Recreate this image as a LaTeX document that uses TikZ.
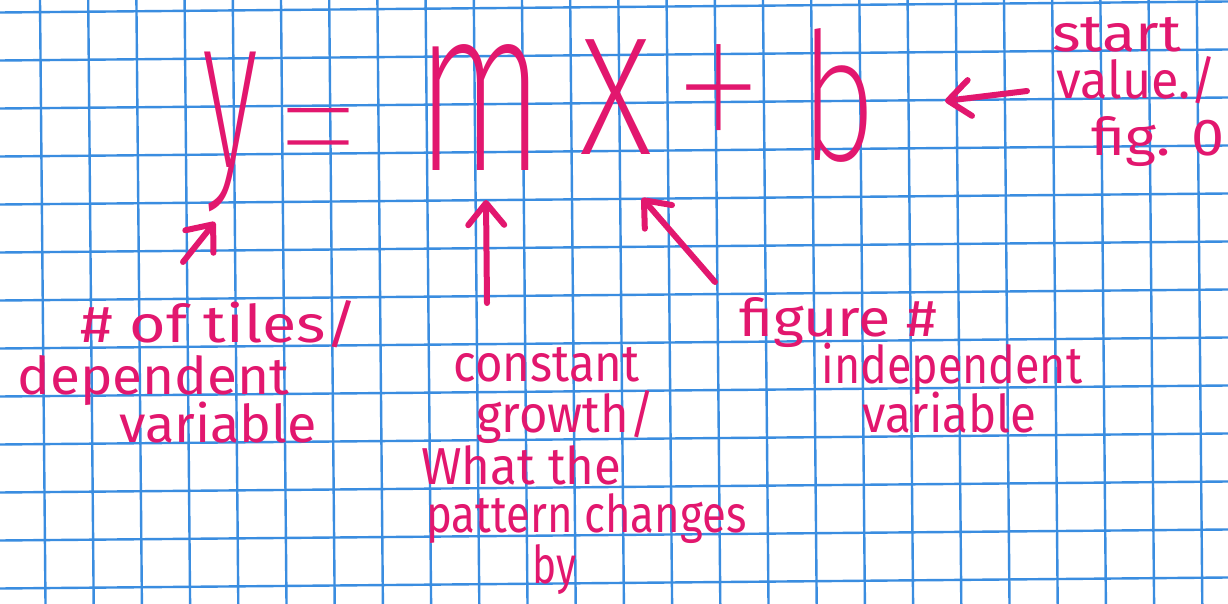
\documentclass[tikz,border=0pt]{standalone}
\usepackage{fontspec}
\usepackage{graphicx}
\usetikzlibrary{arrows.meta}
\newfontfamily\penfont{Fira Sans}
\newfontfamily\bigpen{Fira Sans ExtraLight}
\newfontfamily\signpen{Fira Sans Thin}
\definecolor{penpink}{HTML}{E2176E}
\definecolor{gridblue}{HTML}{3A8DE0}
% squeeze a line of handwriting to a given width, keeping its height
\newcommand{\inkline}[2]{\resizebox{#1}{\height}{#2}}
% fit one big glyph into a box
\newcommand{\inkglyph}[3]{\resizebox*{#1}{#2}{#3}}

\begin{document}
\begin{tikzpicture}[x=0.5pt, y=-0.5pt,
  gridline/.style={gridblue, line width=1.2pt},
  note/.style={penpink, font=\penfont\fontsize{26}{26}\selectfont, inner sep=0pt, anchor=base west},
  glyph/.style={penpink, font=\bigpen\fontsize{110}{110}\selectfont, inner sep=0pt},
  sign/.style={penpink, inner sep=0pt, anchor=north},
  pointer/.style={penpink, line width=3pt, line cap=round, -{Straight Barb[length=11pt,width=18pt,round]}}]
  \fill[white] (0,0) rectangle (1228,604);
  \useasboundingbox (0,0) rectangle (1228,604);
  % Graph paper
  \foreach \k in {0,...,24}
    \draw[gridline] ({40+48.2*\k},0) -- ({45.5+48.2*\k},604);
  \foreach \j in {0,...,12}
    \draw[gridline] (0,{12.5+48*\j}) -- (1228,{1.5+48*\j});
  % Equation
  \node[glyph] (eqy) at (230,132) {\inkglyph{28pt}{80pt}{y}};
  \node[sign, font=\signpen\fontsize{64}{64}\selectfont] (eqeq) at (319,108) {\scalebox{1.45}[1.6]{=}};
  \node[glyph] (eqm) at (480,108) {\inkglyph{64pt}{63pt}{m}};
  \node[glyph, anchor=base] (eqx) at (616,155) {\scalebox{0.74}[1]{x}};
  \node[sign, font=\signpen\fontsize{130}{130}\selectfont] (eqplus) at (719,44) {\scalebox{0.75}[1]{+}};
  \node[glyph] (eqb) at (838,95) {\inkglyph{38pt}{67pt}{b}};
  % Labels
  \node[note] (tiles) at (80,343) {\inkline{139pt}{\# of tiles/}};
  \node[note] (dependent) at (17,395) {\inkline{136pt}{dependent}};
  \node[note] (depvar) at (119,443) {\inkline{98.5pt}{variable}};
  \node[note] (constant) at (453,382) {\inkline{93pt}{constant}};
  \node[note] (growth) at (476,433) {\inkline{89pt}{growth/}};
  \node[note] (whatthe) at (421,485) {\inkline{100pt}{What the}};
  \node[note] (pattern) at (426,533) {\inkline{160pt}{pattern changes}};
  \node[note] (by) at (532,583) {\inkline{22pt}{by}};
  \node[note] (figure) at (739,337) {\inkline{99pt}{figure \#}};
  \node[note] (independent) at (821,384) {\inkline{130.5pt}{independent}};
  \node[note] (indepvar) at (862,433) {\inkline{87pt}{variable}};
  \node[note] (start) at (1052,52) {\inkline{64.5pt}{start}};
  \node[note] (value) at (1056,99) {\inkline{80pt}{value./}};
  \node[note] (figzero) at (1091,156) {\inkline{66.5pt}{fig. 0}};
  % Arrows
  \coordinate (tilesTail) at (183,262);
  \coordinate (yHead) at (215,222);
  \coordinate (growthTail) at (487,303);
  \coordinate (mHead) at (486,200);
  \coordinate (figureTail) at (715,282);
  \coordinate (xHead) at (642,198);
  \coordinate (startTail) at (1027,91);
  \coordinate (bHead) at (945,101);
  \draw[pointer] (tilesTail) -- (yHead);
  \draw[pointer] (growthTail) -- (mHead);
  \draw[pointer] (figureTail) -- (xHead);
  \draw[pointer] (startTail) -- (bHead);
\end{tikzpicture}
\end{document}
